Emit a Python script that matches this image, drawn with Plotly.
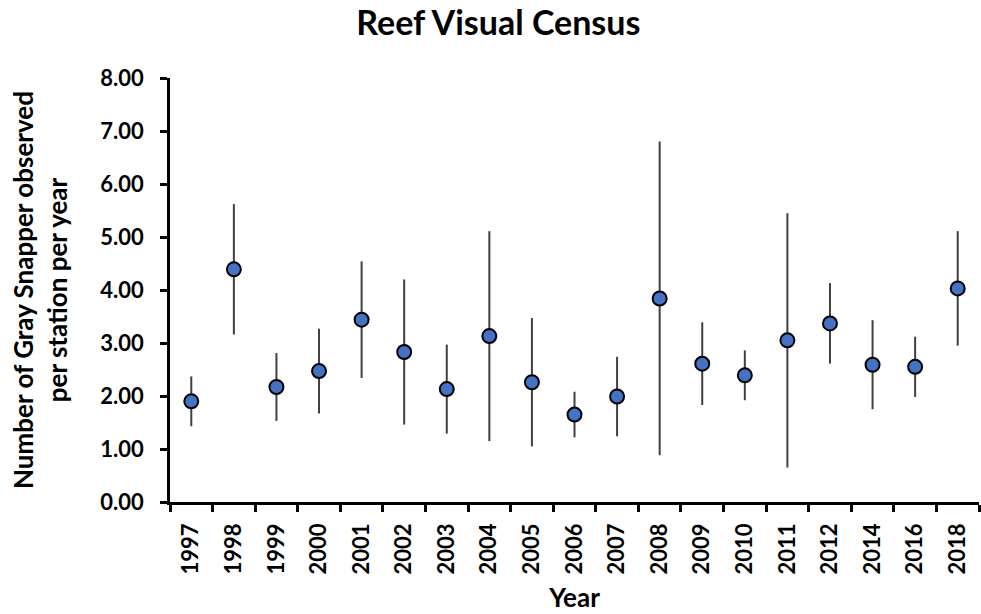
import plotly.graph_objects as go

years = ["1997", "1998", "1999", "2000", "2001", "2002", "2003", "2004", "2005",
         "2006", "2007", "2008", "2009", "2010", "2011", "2012", "2014", "2016", "2018"]
mean_count = [1.90, 4.39, 2.17, 2.47, 3.44, 2.83, 2.13, 3.13, 2.26,
              1.65, 1.99, 3.84, 2.61, 2.39, 3.05, 3.37, 2.59, 2.55, 4.03]
error_95 = [0.47, 1.23, 0.64, 0.80, 1.10, 1.37, 0.84, 1.98, 1.21,
            0.43, 0.75, 2.96, 0.78, 0.47, 2.40, 0.76, 0.84, 0.57, 1.08]
y_ticks = [0, 1, 2, 3, 4, 5, 6, 7, 8]

FONT = "Lato"

fig = go.Figure()
fig.add_trace(go.Scatter(
    x=years,
    y=mean_count,
    mode="markers",
    marker=dict(size=14, color="#4472C4", line=dict(color="black", width=2)),
    error_y=dict(type="data", array=error_95, visible=True,
                 color="#404040", thickness=2, width=0),
    showlegend=False,
))

fig.update_layout(
    width=981, height=614,
    margin=dict(l=170, r=2, t=78, b=112, autoexpand=False),
    paper_bgcolor="white", plot_bgcolor="white",
    font=dict(family=FONT, color="black"),
    title=dict(text="<b>Reef Visual Census</b>", x=0.508, xref="container",
               xanchor="center", y=1 - 23 / 614, yref="container", yanchor="middle",
               font=dict(family=FONT, size=34, color="black")),
    xaxis=dict(
        type="category", categoryorder="array", categoryarray=years,
        range=[-0.5, len(years) - 0.5], autorange=False,
        automargin=False,
        tickson="boundaries", ticks="outside", ticklen=7, tickwidth=2.5, tickcolor="black",
        showline=True, linecolor="black", linewidth=2.5, showgrid=False, zeroline=False,
        tickangle=-90, ticklabelstandoff=10,
        tickfont=dict(family=FONT, size=22, color="black", weight="bold"),
        title=dict(text="<b>Year</b>", font=dict(family=FONT, size=26, color="black"),
                   standoff=16),
    ),
    yaxis=dict(
        range=[0, 8], tickvals=y_ticks, tickformat=".2f",
        automargin=False,
        ticks="outside", ticklen=7, tickwidth=2.5, tickcolor="black",
        showline=True, linecolor="black", linewidth=2.5, showgrid=False, zeroline=False,
        ticklabelstandoff=12,
        tickfont=dict(family=FONT, size=22, color="black", weight="bold"),
        title=dict(text="<b>Number of Gray Snapper observed<br>per station per year</b>",
                   font=dict(family=FONT, size=26, color="black"), standoff=26),
    ),
)

fig.write_html("out.html")
